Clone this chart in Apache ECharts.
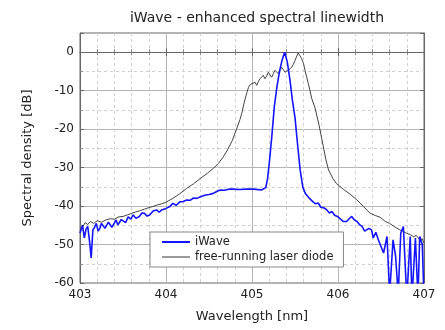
<!DOCTYPE html>
<html>
<head>
<meta charset="utf-8">
<script src="https://cdn.jsdelivr.net/npm/echarts@6/dist/echarts.min.js"></script>
<style>
  html, body { margin: 0; padding: 0; background: #fff; }
  #chart { width: 445px; height: 330px; }
</style>
</head>
<body>
<div id="chart"></div>
<script>
// iWave spectrum (wavelength nm / density dB)
const iwaveNm = [
  403.00, 403.03, 403.05, 403.07, 403.09, 403.11, 403.13, 403.15, 403.17, 403.19,
  403.21, 403.23, 403.25, 403.27, 403.29, 403.31, 403.33, 403.35, 403.37, 403.39,
  403.42, 403.44, 403.46, 403.48, 403.50, 403.53, 403.56, 403.59, 403.62, 403.65,
  403.69, 403.72, 403.75, 403.78, 403.81, 403.85, 403.89, 403.92, 403.95, 404.00,
  404.04, 404.08, 404.12, 404.16, 404.20, 404.24, 404.28, 404.32, 404.36, 404.40,
  404.45, 404.50, 404.55, 404.59, 404.63, 404.68, 404.73, 404.78, 404.85, 404.94,
  405.02, 405.11, 405.16, 405.18, 405.20, 405.23, 405.26, 405.29, 405.32, 405.35,
  405.38, 405.41, 405.44, 405.47, 405.50, 405.53, 405.56, 405.59, 405.62, 405.66,
  405.71, 405.74, 405.77, 405.80, 405.84, 405.87, 405.90, 405.93, 405.96, 406.00,
  406.02, 406.06, 406.10, 406.13, 406.16, 406.19, 406.22, 406.25, 406.28, 406.31,
  406.33, 406.36, 406.39, 406.41, 406.44, 406.47, 406.49, 406.53, 406.57, 406.60,
  406.64, 406.67, 406.70, 406.73, 406.76, 406.80, 406.84, 406.86, 406.90, 406.93,
  406.95, 406.98, 407.00
];
const iwaveDb = [
  -47, -45, -48.3, -46, -45.3, -49, -53.5, -46.2, -45.5, -44.5,
  -46.5, -45.8, -44.5, -44, -45.8, -45.3, -44.2, -44, -45.5, -44.8,
  -43.6, -44.9, -44.5, -43.5, -43.2, -44.3, -42.8, -43.4, -42.3, -43.2,
  -42.7, -41.8, -41.9, -42.6, -42.3, -41.3, -41, -41.6, -41, -40.6,
  -40.2, -39.3, -39.8, -38.9, -38.8, -38.4, -38.5, -37.9, -38, -37.6,
  -37.2, -37, -36.7, -36.2, -35.8, -35.9, -35.6, -35.6, -35.7, -35.6,
  -35.6, -35.8, -35.2, -33, -29, -22, -14, -9, -5, -2,
  0, -2.5, -7, -12.5, -17, -24, -30.6, -35, -36.7, -37.8,
  -38.9, -39.4, -39.2, -40.3, -40.5, -41, -41.8, -41.4, -42.4, -42.8,
  -43.2, -44, -44, -43.3, -42.7, -43.6, -44, -44.8, -45.3, -46.5,
  -47, -45.8, -46.2, -48.3, -46.8, -48.8, -48.8, -52.2, -47.9, -63,
  -48.8, -53.1, -63, -47, -45.3, -64, -47.9, -64, -48.3, -64,
  -47.9, -50, -64
];

// free-running laser diode spectrum
const freeNm = [
  403.00, 403.03, 403.06, 403.09, 403.12, 403.16, 403.20, 403.25, 403.30, 403.35,
  403.40, 403.45, 403.50, 403.55, 403.60, 403.65, 403.70, 403.75, 403.80, 403.85,
  403.90, 403.95, 404.00, 404.08, 404.16, 404.24, 404.32, 404.40, 404.48, 404.55,
  404.61, 404.66, 404.71, 404.77, 404.82, 404.86, 404.88, 404.91, 404.94, 404.96,
  404.98, 405.00, 405.035, 405.055, 405.075, 405.093, 405.11, 405.131, 405.15, 405.17,
  405.19, 405.21, 405.229, 405.25, 405.267, 405.285, 405.306, 405.325, 405.345, 405.365,
  405.384, 405.40, 405.422, 405.44, 405.462, 405.48, 405.50, 405.52, 405.538, 405.558,
  405.578, 405.60, 405.616, 405.635, 405.655, 405.675, 405.694, 405.733, 405.78, 405.83,
  405.86, 405.89, 405.94, 405.98, 406.06, 406.14, 406.22, 406.30, 406.37, 406.44,
  406.49, 406.55, 406.60, 406.66, 406.72, 406.76, 406.80, 406.84, 406.88, 406.91,
  406.95, 406.98, 407.00
];
const freeDb = [
  -46, -45.5, -44.3, -44.8, -44, -44.5, -43.8, -44.2, -43.6, -43.3,
  -43.4, -42.8, -42.7, -42.3, -41.9, -41.5, -41.2, -40.8, -40.4, -40.1,
  -39.7, -39.4, -39, -38, -36.8, -35.4, -34.2, -32.8, -31.5, -30.2,
  -28.9, -27.4, -25.6, -23, -20, -17.5, -16, -13, -10.5, -9.1,
  -8.4, -8.2, -7.8, -8.6, -7.6, -6.9, -6.8, -6, -6.9, -6.2,
  -5.2, -5.6, -6.5, -5.5, -4.7, -5.2, -5.6, -4.6, -3.9, -4.4,
  -5.2, -4.9, -4.7, -4.5, -3.9, -3.2, -2.2, -1, -0.2, -0.6,
  -1.7, -3, -4.7, -6.4, -8.2, -10, -12, -14.5, -19, -24.6,
  -28, -30.6, -32.8, -34.1, -35.6, -36.9, -38.4, -40.2, -41.8, -42.5,
  -42.9, -44, -44.5, -45.4, -46.2, -46.6, -47.1, -47.4, -48, -47.6,
  -48.8, -48.5, -49.6
];

const seriesNames = ['iWave', 'free-running laser diode'];

const FONT = 'DejaVu Sans';
const chart = echarts.init(document.getElementById('chart'));

const pairs = (xs, ys) => xs.map((x, i) => [x, ys[i]]);

const gridLine = { show: true, lineStyle: { color: '#b4b4b4', width: 1 } };
const minorLine = { show: true, lineStyle: { color: '#d0d0d0', width: 1, type: [3, 3] } };

const option = {
  animation: false,
  backgroundColor: '#fff',
  title: {
    text: 'iWave - enhanced spectral linewidth',
    left: 252,
    textAlign: 'center',
    top: 6,
    textStyle: { fontFamily: FONT, fontSize: 14, fontWeight: 'normal', color: '#222' },
  },
  grid: { left: 80, right: 21, top: 33, bottom: 47, show: true, borderColor: '#666', borderWidth: 1 },
  legend: {
    left: 150,
    top: 232,
    orient: 'vertical',
    data: seriesNames,
    icon: 'rect',
    itemWidth: 28,
    itemHeight: 2,
    itemGap: 3,
    padding: [4, 10, 4, 12],
    backgroundColor: '#fff',
    borderColor: '#888',
    borderWidth: 1,
    textStyle: { fontFamily: FONT, fontSize: 11.5, color: '#222' },
  },
  xAxis: [
    {
      type: 'value',
      min: 403,
      max: 407,
      interval: 1,
      name: 'Wavelength [nm]',
      nameLocation: 'middle',
      nameGap: 27,
      nameTextStyle: { fontFamily: FONT, fontSize: 13, color: '#222' },
      axisLine: { lineStyle: { color: '#666' } },
      axisTick: { inside: true, length: 4, lineStyle: { color: '#666' } },
      minorTick: { show: true, splitNumber: 5, length: 3, lineStyle: { color: '#888' } },
      axisLabel: { fontFamily: FONT, fontSize: 12, color: '#222', margin: 6 },
      splitLine: gridLine,
      minorSplitLine: minorLine,
    },
    {
      type: 'value',
      position: 'top',
      min: 403,
      max: 407,
      interval: 1,
      axisLine: { lineStyle: { color: '#666' } },
      axisTick: { inside: true, length: 4, lineStyle: { color: '#666' } },
      minorTick: { show: true, splitNumber: 5, length: 3, lineStyle: { color: '#888' } },
      axisLabel: { show: false },
      splitLine: { show: false },
    },
  ],
  yAxis: [
    {
      type: 'value',
      min: -60,
      max: 5,
      interval: 10,
      name: 'Spectral density [dB]',
      nameLocation: 'middle',
      nameGap: 46,
      nameTextStyle: { fontFamily: FONT, fontSize: 13, color: '#222' },
      axisLine: { show: true, lineStyle: { color: '#666' } },
      axisTick: { inside: true, length: 4, lineStyle: { color: '#666' } },
      minorTick: { show: true, splitNumber: 2, length: 3, lineStyle: { color: '#888' } },
      axisLabel: { fontFamily: FONT, fontSize: 12, color: '#222', margin: 6, showMaxLabel: false },
      splitLine: gridLine,
      minorSplitLine: minorLine,
    },
    {
      type: 'value',
      position: 'right',
      min: -60,
      max: 5,
      interval: 10,
      axisLine: { show: true, lineStyle: { color: '#666' } },
      axisTick: { inside: true, length: 4, lineStyle: { color: '#666' } },
      axisLabel: { show: false },
      splitLine: { show: false },
    },
  ],
  series: [
    {
      name: seriesNames[0],
      type: 'line',
      data: pairs(iwaveNm, iwaveDb),
      showSymbol: false,
      symbol: 'none',
      z: 3,
      clip: true,
      lineStyle: { color: '#1414ff', width: 1.6 },
      itemStyle: { color: '#1414ff' },
    },
    {
      name: seriesNames[1],
      type: 'line',
      data: pairs(freeNm, freeDb),
      showSymbol: false,
      symbol: 'none',
      z: 2,
      clip: true,
      lineStyle: { color: '#444', width: 1 },
      itemStyle: { color: '#999' },
    },
  ],
};

chart.setOption(option);
</script>
</body>
</html>
